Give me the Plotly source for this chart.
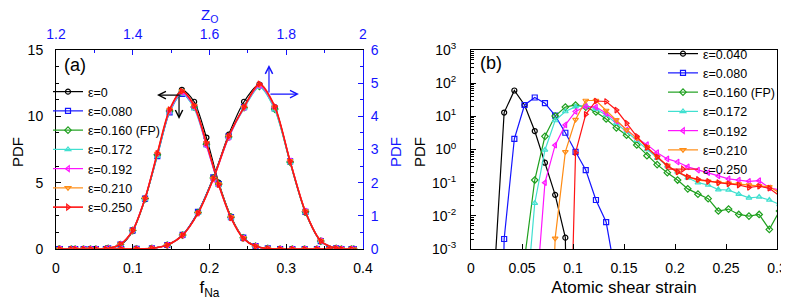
import plotly.graph_objects as go

# ---------------- Panel (a) data ----------------
labels_a = ["ε=0", "ε=0.080", "ε=0.160 (FP)", "ε=0.172", "ε=0.192", "ε=0.210", "ε=0.250"]
f_na = [0.004, 0.020, 0.036, 0.052, 0.068, 0.084, 0.100, 0.116, 0.132, 0.148, 0.164, 0.180,
        0.196, 0.212, 0.228, 0.244, 0.260, 0.276, 0.292, 0.308, 0.324, 0.340, 0.356, 0.372, 0.388]
pdf_fna_e0 = [0, 0, 0, 0, 0.04, 0.30, 1.35, 3.75, 7.1, 10.4, 12.0, 11.1, 8.4, 5.0, 2.45, 0.85, 0.20, 0.04, 0, 0, 0, 0, 0, 0, 0]
pdf_fna_e080 = [0, 0, 0, 0, 0.05, 0.33, 1.40, 3.80, 7.0, 10.3, 11.7, 10.7, 7.9, 4.9, 2.40, 0.85, 0.22, 0.04, 0, 0, 0, 0, 0, 0, 0]
pdf_fna_e160 = [0, 0, 0, 0, 0.05, 0.34, 1.40, 3.80, 7.1, 10.4, 11.8, 10.7, 7.9, 4.9, 2.40, 0.84, 0.21, 0.04, 0, 0, 0, 0, 0, 0, 0]
pdf_fna_e172 = [0, 0, 0, 0, 0.05, 0.34, 1.38, 3.75, 7.0, 10.3, 11.7, 10.6, 7.8, 4.8, 2.35, 0.84, 0.21, 0.04, 0, 0, 0, 0, 0, 0, 0]
pdf_fna_e192 = [0, 0, 0, 0, 0.05, 0.35, 1.42, 3.85, 7.2, 10.4, 11.8, 10.7, 7.8, 4.8, 2.35, 0.82, 0.21, 0.03, 0, 0, 0, 0, 0, 0, 0]
pdf_fna_e210 = [0, 0, 0, 0, 0.05, 0.35, 1.40, 3.80, 7.2, 10.5, 11.9, 10.8, 8.0, 4.9, 2.40, 0.84, 0.21, 0.04, 0, 0, 0, 0, 0, 0, 0]
pdf_fna_e250 = [0, 0, 0, 0, 0.05, 0.35, 1.40, 3.80, 7.2, 10.5, 11.9, 10.8, 8.0, 4.85, 2.35, 0.80, 0.20, 0.03, 0, 0, 0, 0, 0, 0, 0]

z_o = [1.21, 1.25, 1.29, 1.33, 1.37, 1.41, 1.45, 1.49, 1.53, 1.57, 1.61, 1.65, 1.69, 1.73,
       1.77, 1.81, 1.85, 1.89, 1.93, 1.97]
pdf_zo_e0 = [0, 0, 0, 0, 0, 0.005, 0.02, 0.12, 0.42, 1.10, 2.15, 3.45, 4.44, 4.96, 4.28, 2.62, 1.10, 0.24, 0.02, 0]
pdf_zo_e080 = [0, 0, 0, 0, 0, 0.005, 0.02, 0.12, 0.43, 1.12, 2.16, 3.40, 4.28, 4.92, 4.24, 2.64, 1.12, 0.24, 0.02, 0]
pdf_zo_e160 = [0, 0, 0, 0, 0, 0.005, 0.02, 0.12, 0.42, 1.10, 2.14, 3.38, 4.26, 4.90, 4.22, 2.62, 1.12, 0.24, 0.02, 0]
pdf_zo_e172 = [0, 0, 0, 0, 0, 0.005, 0.02, 0.12, 0.42, 1.08, 2.12, 3.36, 4.24, 4.88, 4.20, 2.60, 1.10, 0.24, 0.02, 0]
pdf_zo_e192 = [0, 0, 0, 0, 0, 0.005, 0.02, 0.12, 0.41, 1.08, 2.10, 3.36, 4.26, 4.92, 4.26, 2.66, 1.14, 0.25, 0.02, 0]
pdf_zo_e210 = [0, 0, 0, 0, 0, 0.005, 0.02, 0.12, 0.42, 1.08, 2.12, 3.40, 4.28, 4.96, 4.28, 2.66, 1.14, 0.25, 0.02, 0]
pdf_zo_e250 = [0, 0, 0, 0, 0, 0.005, 0.02, 0.12, 0.42, 1.08, 2.12, 3.40, 4.28, 4.98, 4.30, 2.64, 1.12, 0.24, 0.02, 0]

# ---------------- Panel (b) data ----------------
labels_b = ["ε=0.040", "ε=0.080", "ε=0.160 (FP)", "ε=0.172", "ε=0.192", "ε=0.210", "ε=0.250"]
strain = [0.0225, 0.0325, 0.0425, 0.0525, 0.0625, 0.0725, 0.0825, 0.0925, 0.1025, 0.1125,
          0.1225, 0.1325, 0.1425, 0.1525, 0.1625, 0.1725, 0.1825, 0.1925, 0.2025, 0.2125,
          0.2225, 0.2325, 0.2425, 0.2525, 0.2625, 0.2725, 0.2825, 0.2925, 0.3025]
N = None
pdf_s_e040 = [1e-4, 13, 60, 22, 3.6, 0.40, 0.043, 0.0022, 1e-25] + [N] * 20
pdf_s_e080 = [1e-20, 0.002, 2.1, 22, 37, 25, 10.5, 3.2, 0.85, 0.24, 0.03, 0.0065, 1.2e-4] + [N] * 16
pdf_s_e160 = [N, N, N, 5e-4, 0.12, 2.5, 10.2, 19, 22, 19, 13.5, 8.3, 4.5, 2.7, 1.37, 0.65, 0.35,
              0.20, 0.12, 0.065, 0.045, 0.033, 0.014, 0.016, 0.011, 0.0098, 0.011, 0.0039, 0.014]
pdf_s_e172 = [N, N, N, 6e-6, 0.024, 0.97, 7.5, 14, 19.5, 21, 16.5, 11, 6.2, 3.5, 1.9, 1.0, 0.55,
              0.32, 0.21, 0.14, 0.10, 0.085, 0.062, 0.060, 0.045, 0.035, 0.037, 0.030, 0.022]
pdf_s_e192 = [N, N, N, N, 1e-5, 0.10, 1.35, 5.5, 14, 20, 19, 12.3, 7.2, 3.9, 2.2, 1.4, 0.80,
              0.52, 0.42, 0.30, 0.24, 0.20, 0.16, 0.13, 0.12, 0.11, 0.115, 0.07, 0.06]
pdf_s_e210 = [N, N, N, N, N, 1e-12, 0.0021, 0.85, 8, 30, 30, 15, 7.8, 3.9, 2.2, 1.2, 0.60,
              0.33, 0.21, 0.15, 0.12, 0.11, 0.10, 0.095, 0.09, 0.085, 0.08, 0.075, 0.05]
pdf_s_e250 = [N, N, N, N, N, N, N, 1e-12, 0.8, 11.5, 29, 28, 15.5, 6.2, 2.5, 1.15, 0.60,
              0.32, 0.21, 0.15, 0.125, 0.11, 0.10, 0.092, 0.085, 0.072, 0.078, 0.068, 0.04]

log_tickvals = [1e-3, 1e-2, 1e-1, 1, 10, 100, 1000]
log_ticktext = ["10<sup>-3</sup>", "10<sup>-2</sup>", "10<sup>-1</sup>", "10<sup>0</sup>",
                "10<sup>1</sup>", "10<sup>2</sup>", "10<sup>3</sup>"]

# ---------------- styles ----------------
colors = ["#000000", "#1414ff", "#1ea01e", "#40e0d0", "#ff14ff", "#ff8c14", "#ff1414"]
symbols = ["circle-open", "square-open", "diamond-open", "triangle-up-open",
           "triangle-left-open", "triangle-down-open", "triangle-right-open"]
FONT = "Liberation Sans, Arial, sans-serif"
BLUE = "#1414ff"

fna_series = [pdf_fna_e0, pdf_fna_e080, pdf_fna_e160, pdf_fna_e172, pdf_fna_e192, pdf_fna_e210, pdf_fna_e250]
zo_series = [pdf_zo_e0, pdf_zo_e080, pdf_zo_e160, pdf_zo_e172, pdf_zo_e192, pdf_zo_e210, pdf_zo_e250]
strain_series = [pdf_s_e040, pdf_s_e080, pdf_s_e160, pdf_s_e172, pdf_s_e192, pdf_s_e210, pdf_s_e250]

fig = go.Figure()

for i in range(7):
    lw = 1.6 if i == 6 else 1.2
    fig.add_trace(go.Scatter(
        x=f_na, y=fna_series[i], mode="lines+markers", name=labels_a[i],
        line=dict(color=colors[i], width=lw, shape="spline", smoothing=0.8),
        marker=dict(symbol=symbols[i], size=5, color=colors[i], line=dict(width=1.2, color=colors[i])),
        xaxis="x", yaxis="y", legend="legend", showlegend=True))
    fig.add_trace(go.Scatter(
        x=z_o, y=zo_series[i], mode="lines+markers", name=labels_a[i],
        line=dict(color=colors[i], width=lw, shape="spline", smoothing=0.8),
        marker=dict(symbol=symbols[i], size=5, color=colors[i], line=dict(width=1.2, color=colors[i])),
        xaxis="x3", yaxis="y3", showlegend=False))

for i in range(7):
    fig.add_trace(go.Scatter(
        x=strain, y=strain_series[i], mode="lines+markers", name=labels_b[i],
        line=dict(color=colors[i], width=1.2),
        marker=dict(symbol=symbols[i], size=5, color=colors[i], line=dict(width=1.2, color=colors[i])),
        xaxis="x2", yaxis="y2", legend="legend2", showlegend=True))

# The page body adds an 8 px offset; layout positions below are given in screen pixels
OFF = 8
W, H = 789 - OFF, 300 - OFF


def px(x):
    return (x - OFF) / W


def py(y):
    return 1 - (y - OFF) / H


ax_a = [px(56), px(363)]
ax_b = [px(471), px(777)]
ydom = [py(249), py(50)]

tickfont = dict(family=FONT, size=14, color="black")
common = dict(showgrid=False, zeroline=False, ticks="inside", ticklen=5, tickwidth=1,
              linecolor="black", linewidth=1, showline=True, tickcolor="black", automargin=False)

fig.update_layout(
    template="plotly_white",
    width=W, height=H, margin=dict(l=0, r=0, t=0, b=0, autoexpand=False),
    paper_bgcolor="white", plot_bgcolor="white",
    font=dict(family=FONT, size=14, color="black"),
    xaxis=dict(domain=ax_a, anchor="y", range=[0, 0.4], dtick=0.1,
               minor=dict(ticks="inside", ticklen=3, dtick=0.05, tickcolor="black"),
               tickfont=tickfont, ticklabelstandoff=6,
               title=dict(text="f<sub>Na</sub>", font=dict(size=17), standoff=6), **common),
    yaxis=dict(domain=ydom, anchor="x", range=[0, 15], dtick=5,
               minor=dict(ticks="inside", ticklen=3, dtick=1.25, tickcolor="black"),
               tickfont=tickfont, ticklabelstandoff=9, **common),
    xaxis3=dict(domain=ax_a, anchor="y", overlaying="x", side="top", range=[1.2, 2.0], dtick=0.2,
                showgrid=False, zeroline=False, ticks="inside", ticklen=5, automargin=False,
                tickcolor=BLUE, showline=True, linecolor="black", linewidth=1,
                minor=dict(ticks="inside", ticklen=3, dtick=0.1, tickcolor=BLUE),
                tickfont=dict(family=FONT, size=14, color=BLUE), ticklabelstandoff=4),
    yaxis3=dict(domain=ydom, anchor="x", overlaying="y", side="right", range=[0, 6], dtick=1,
                showgrid=False, zeroline=False, ticks="inside", ticklen=5, tickcolor=BLUE,
                showline=True, linecolor=BLUE, linewidth=1, automargin=False,
                minor=dict(ticks="inside", ticklen=3, dtick=0.5, tickcolor=BLUE),
                tickfont=dict(family=FONT, size=14, color=BLUE), ticklabelstandoff=4),
    xaxis2=dict(domain=ax_b, anchor="y2", range=[0, 0.3], dtick=0.05, tickangle=0,
                tickfont=tickfont, ticklabelstandoff=6, mirror=True,
                title=dict(text="Atomic shear strain", font=dict(size=17), standoff=6), **common),
    yaxis2=dict(domain=ydom, anchor="x2", type="log", range=[-3, 3],
                tickvals=log_tickvals, ticktext=log_ticktext,
                minor=dict(ticks="inside", ticklen=3, dtick="D1", tickcolor="black"),
                tickfont=tickfont, ticklabelstandoff=11, mirror=True, **common),
    legend=dict(x=px(48), y=py(77), xanchor="left", yanchor="top", bgcolor="rgba(0,0,0,0)",
                font=dict(family=FONT, size=12.5), itemwidth=30, tracegroupgap=0),
    legend2=dict(x=px(663), y=py(39), xanchor="left", yanchor="top", bgcolor="rgba(0,0,0,0)",
                 font=dict(family=FONT, size=12.5), itemwidth=30, tracegroupgap=0),
    showlegend=True,
)

annotations = [
    # axis titles
    dict(text="Z<sub>O</sub>", xref="paper", yref="paper", x=(px(56) + px(363)) / 2, y=1.0,
         xanchor="center", yanchor="top", yshift=4, showarrow=False, font=dict(size=15, color=BLUE)),
    dict(text="PDF", xref="paper", yref="paper", x=px(17), y=py(152), xanchor="center",
         yanchor="middle", textangle=-90, showarrow=False, font=dict(size=15)),
    dict(text="PDF", xref="paper", yref="paper", x=px(395), y=py(152), xanchor="center",
         yanchor="middle", textangle=-90, showarrow=False, font=dict(size=15, color=BLUE)),
    dict(text="PDF", xref="paper", yref="paper", x=px(419), y=py(152), xanchor="center",
         yanchor="middle", textangle=-90, showarrow=False, font=dict(size=15)),
    # panel labels
    dict(text="(a)", xref="paper", yref="paper", x=px(62), y=py(65), xanchor="left",
         yanchor="middle", showarrow=False, font=dict(size=18)),
    dict(text="(b)", xref="paper", yref="paper", x=px(478), y=py(63), xanchor="left",
         yanchor="middle", showarrow=False, font=dict(size=18)),
    # black arrows (left axis / f_Na)
    dict(x=0.1316, y=11.6, xref="x", yref="y", ax=25, ay=0, text="", showarrow=True,
         arrowhead=5, arrowsize=1.2, arrowwidth=1.2, arrowcolor="black"),
    dict(x=0.1603, y=9.8, xref="x", yref="y", ax=0, ay=-24, text="", showarrow=True,
         arrowhead=5, arrowsize=1.2, arrowwidth=1.2, arrowcolor="black"),
    # blue arrows (right axis / Z_O)
    dict(x=1.755, y=5.55, xref="x3", yref="y3", ax=0, ay=29, text="", showarrow=True,
         arrowhead=5, arrowsize=1.2, arrowwidth=1.2, arrowcolor=BLUE),
    dict(x=1.833, y=4.67, xref="x3", yref="y3", ax=-30, ay=0, text="", showarrow=True,
         arrowhead=5, arrowsize=1.2, arrowwidth=1.2, arrowcolor=BLUE),
]
fig.update_layout(annotations=annotations)

fig.write_html("out.html")
